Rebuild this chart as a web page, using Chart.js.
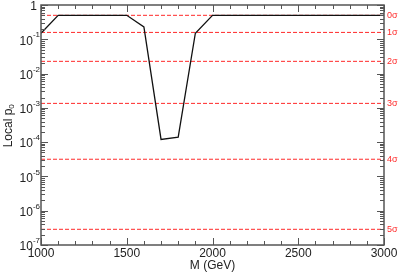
<!DOCTYPE html>
<html>
<head>
<meta charset="utf-8">
<script src="https://cdn.jsdelivr.net/npm/chart.js@4.4.0/dist/chart.umd.min.js"></script>
<style>
html, body { margin: 0; padding: 0; background: #fff; }
</style>
</head>
<body>
<canvas id="chart" width="398" height="273"></canvas>
<script>
//Data
const masses = [1000, 1100, 1200, 1300, 1400, 1500, 1600, 1700, 1800, 1900, 2000, 2100, 2200, 2300, 2400, 2500, 2600, 2700, 2800, 2900, 3000];
const localP0 = [0.15, 0.5, 0.5, 0.5, 0.5, 0.5, 0.23, 1.2e-4, 1.4e-4, 0.15, 0.5, 0.5, 0.5, 0.5, 0.5, 0.5, 0.5, 0.5, 0.5, 0.5, 0.5];
const sigmaLabels = ['0σ', '1σ', '2σ', '3σ', '4σ', '5σ'];
const sigmaP = [0.5, 0.1587, 0.02275, 0.00135, 3.17e-5, 2.87e-7];
const xTickLabels = ['1000', '1500', '2000', '2500', '3000'];
const yExponents = [0, -1, -2, -3, -4, -5, -6, -7];

const FONT = '"Liberation Sans", Arial, sans-serif';
const FRAME = '#555';
const RED = '#ff2a2a';

const datasets = [{
    data: masses.map((m, i) => ({x: m, y: localP0[i]})),
    borderColor: '#111',
    borderWidth: 1.3,
    pointRadius: 0,
    tension: 0
}];
sigmaP.forEach(p => {
    datasets.push({
        data: [{x: masses[0], y: p}, {x: masses[masses.length - 1], y: p}],
        borderColor: RED,
        borderWidth: 1,
        borderDash: [4, 2],
        pointRadius: 0
    });
});

//Custom axes: inward ticks, frame, superscript labels
const axisPlugin = {
    id: 'axisPlugin',
    afterDraw(chart) {
        const c = chart.ctx, a = chart.chartArea;
        const xs = chart.scales.x, ys = chart.scales.y;
        const seg = (x1, y1, x2, y2) => { c.beginPath(); c.moveTo(x1, y1); c.lineTo(x2, y2); c.stroke(); };
        c.save();
        c.strokeStyle = FRAME;
        c.lineWidth = 1;
        for (let m = 1000; m <= 3000; m += 100) {
            const px = Math.round(xs.getPixelForValue(m)) + 0.5;
            const len = m % 500 === 0 ? 7 : 4;
            seg(px, a.bottom, px, a.bottom - len);
            seg(px, a.top, px, a.top + len);
        }
        for (let e = -7; e <= 0; e++) {
            for (let k = 1; k < 10; k++) {
                if (e === 0 && k > 1) break;
                const py = Math.round(ys.getPixelForValue(k * Math.pow(10, e))) + 0.5;
                const len = k === 1 ? 7 : 4;
                seg(a.left, py, a.left + len, py);
                seg(a.right, py, a.right - len, py);
            }
        }
        c.lineWidth = 1.5;
        c.strokeRect(a.left, a.top, a.right - a.left, a.bottom - a.top);

        c.fillStyle = '#222';
        c.font = '12px ' + FONT;
        c.textAlign = 'center';
        c.textBaseline = 'top';
        xTickLabels.forEach(t => {
            c.fillText(t, xs.getPixelForValue(Number(t)), a.bottom + 3);
        });
        c.fillText('M (GeV)', (a.left + a.right) / 2, a.bottom + 15);

        c.textBaseline = 'middle';
        yExponents.forEach(e => {
            const py = ys.getPixelForValue(Math.pow(10, e));
            if (e === 0) {
                c.textAlign = 'right';
                c.font = '12px ' + FONT;
                c.fillText('1', a.left - 4, py + 2);
                return;
            }
            c.font = '8px ' + FONT;
            const sup = String(e);
            const sw = c.measureText(sup).width;
            c.textAlign = 'right';
            c.fillText(sup, a.left - 1, py - 4);
            c.font = '12px ' + FONT;
            c.fillText('10', a.left - 1 - sw, py + 2);
        });

        c.save();
        c.translate(9, (a.top + a.bottom) / 2);
        c.rotate(-Math.PI / 2);
        c.textAlign = 'center';
        c.font = '12px ' + FONT;
        const main = 'Local p';
        const mw = c.measureText(main).width;
        c.fillText(main, -3, 0);
        c.font = '8px ' + FONT;
        c.textAlign = 'left';
        c.fillText('0', -3 + mw / 2, 3);
        c.restore();

        c.fillStyle = RED;
        c.font = '9px ' + FONT;
        c.textAlign = 'left';
        sigmaP.forEach((p, i) => {
            c.fillText(sigmaLabels[i], a.right + 3, ys.getPixelForValue(p));
        });
        c.restore();
    }
};

const ctx = document.getElementById('chart');
new Chart(ctx, {
    type: 'line',
    data: {datasets: datasets},
    options: {
        responsive: false,
        animation: false,
        layout: {padding: {top: 5, left: 0, right: 0, bottom: 0}},
        plugins: {legend: {display: false}, tooltip: {enabled: false}},
        scales: {
            x: {
                type: 'linear', min: 1000, max: 3000,
                grid: {display: false}, border: {display: false},
                ticks: {display: false},
                afterFit: s => { s.height = 28; }
            },
            y: {
                type: 'logarithmic', min: 1e-7, max: 1,
                grid: {display: false}, border: {display: false},
                ticks: {display: false},
                afterFit: s => { s.width = 41; }
            },
            y2: {
                type: 'logarithmic', position: 'right', min: 1e-7, max: 1,
                grid: {display: false}, border: {display: false},
                ticks: {display: false},
                afterFit: s => { s.width = 14; }
            }
        }
    },
    plugins: [axisPlugin]
});
</script>
</body>
</html>
